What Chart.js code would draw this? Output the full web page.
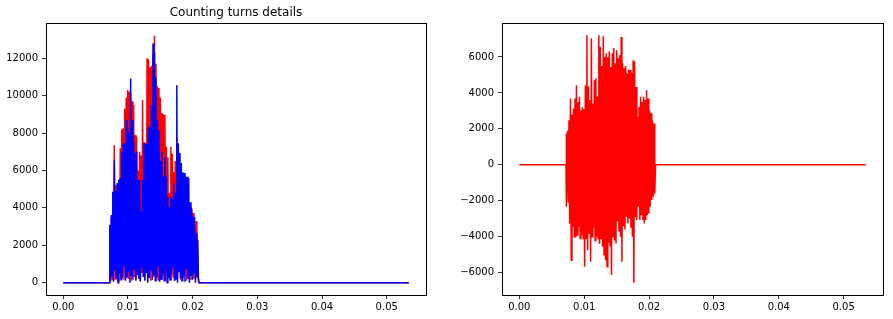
<!DOCTYPE html>
<html>
<head>
<meta charset="utf-8">
<title>Counting turns details</title>
<script src="https://cdn.jsdelivr.net/npm/chart.js@4.4.0/dist/chart.umd.min.js"></script>
<style>
  html, body { margin:0; padding:0; background:#fff; }
  #wrap { position:relative; width:893px; height:319px; }
  #leftCanvas { position:absolute; left:0; top:0; }
  #rightCanvas { position:absolute; left:446px; top:0; }
</style>
</head>
<body>
<div id="wrap">
  <canvas id="leftCanvas" width="446" height="319"></canvas>
  <canvas id="rightCanvas" width="447" height="319"></canvas>
</div>
<script>
/* time window of the recording (s) */
const tEnd = 0.0534;
const burstStart = 0.0072;
const burstEnd = 0.0210;

/* left panel: magnitude, one peak + one trough per sample pair */
const redPeaks = [3100, 3500, 4800, 7350, 5200, 5300, 5500, 7180, 8200, 8250,
  9300, 9900, 10300, 10200, 10100, 9700, 9500, 7900, 7800, 6000,
  7000, 6800, 9760, 7500, 7450, 12000, 11900, 11500, 11600, 12200,
  13200, 11700, 10500, 10400, 9900, 9070, 9000, 8970, 7270, 6700,
  4800, 7270, 6900, 5900, 6500, 7800, 7180, 6900, 6290, 5500,
  5400, 4800, 4590, 4300, 4060, 3990, 3720, 2820, 3300, 2300];
const redTroughs = [300, 150, 600, 200, 400, 100, 700, 250, 500, 150,
  800, 300, 200, 450, 100, 650, 300, 150, 900, 250,
  100, 500, 300, 150, 700, 200, 400, 100, 600, 300,
  800, 250, 150, 500, 200, 900, 350, 100, 600, 250,
  150, 700, 300, 100, 500, 200, 650, 150, 400, 250,
  800, 100, 300, 550, 150, 400, 200, 600, 250, 300];
const bluePeaks = [3080, 3620, 4860, 6550, 4900, 5320, 5500, 5600, 7000, 7450,
  7400, 8690, 8300, 8000, 10920, 8690, 7500, 6930, 7000, 5490,
  5500, 3800, 5490, 7450, 7400, 7450, 8330, 8300, 9500, 12790,
  12300, 11000, 8690, 8150, 6500, 7000, 5700, 6730, 5660, 4590,
  4060, 4590, 4500, 5300, 4800, 10560, 7450, 6930, 6400, 5900,
  5860, 5660, 5660, 5600, 4300, 3900, 3530, 3500, 2640, 2280];
const blueTroughs = [100, 400, 50, 700, 200, 0, 500, 150, 300, 850,
  100, 250, 600, 0, 350, 150, 700, 100, 400, 200,
  50, 800, 300, 100, 500, 0, 250, 650, 150, 400,
  100, 300, 900, 50, 200, 500, 100, 700, 0, 300,
  150, 450, 850, 100, 200, 0, 600, 250, 100, 400,
  50, 750, 200, 0, 350, 150, 500, 0, 300, 100];

/* right panel: raw signal */
const sigPeaks = [1740, 1900, 2480, 3690, 2800, 3130, 3690, 4430, 3500, 3780,
  3040, 3200, 3100, 4430, 7200, 4350, 3600, 7020, 3410, 4700,
  4800, 3800, 7200, 6560, 5500, 7150, 6000, 6200, 5970, 6300,
  5440, 6200, 6500, 5650, 6370, 5930, 6100, 7110, 5650, 5370,
  5500, 5090, 5300, 5280, 5100, 5800, 5720, 4330, 2670, 3220,
  3780, 3500, 3780, 3600, 4150, 3690, 3040, 2870, 2480, 2300];
const sigTroughs = [-2330, -2100, -3260, -5300, -3440, -4000, -4040, -3900, -3440, -4090,
  -3900, -4100, -5670, -4090, -4740, -3800, -5390, -4000, -3500, -4200,
  -4000, -4100, -4400, -4100, -4560, -5000, -5300, -5670, -4300, -4500,
  -6130, -4000, -4200, -4370, -3150, -3700, -4000, -5390, -3400, -3600,
  -2890, -3260, -3000, -3500, -4000, -6550, -2900, -3070, -2330, -3070,
  -2800, -3070, -3260, -3070, -2800, -2700, -2330, -1960, -1780, -1590];

/* ticks */
const xTicks = [0, 0.01, 0.02, 0.03, 0.04, 0.05];
const leftYTicks = [0, 2000, 4000, 6000, 8000, 10000, 12000];
const rightYTicks = [-6000, -4000, -2000, 0, 2000, 4000, 6000];

const FONT = { family: 'DejaVu Sans', size: 10 };

/* silence -> burst (peak/trough pairs) -> silence */
function buildSeries(peaks, troughs) {
  const step = (burstEnd - burstStart) / peaks.length;
  const pts = [{x: 0, y: 0}, {x: burstStart, y: 0}];
  peaks.forEach((p, i) => {
    pts.push({x: burstStart + i*step, y: p});
    pts.push({x: burstStart + (i+0.5)*step, y: troughs[i]});
  });
  pts.push({x: burstEnd, y: 0}, {x: tEnd, y: 0});
  return pts;
}

/* matplotlib-ish box around the axes */
const framePlugin = {
  id: 'frame',
  afterDraw(chart) {
    const {ctx, chartArea: a} = chart;
    ctx.save();
    ctx.strokeStyle = '#000';
    ctx.lineWidth = 1;
    ctx.strokeRect(Math.round(a.left) + 0.5, Math.round(a.top) + 0.5,
      Math.round(a.right - a.left), Math.round(a.bottom - a.top));
    ctx.restore();
  }
};

const fmtNum = v => v < 0 ? '\u2212' + Math.abs(v) : String(v);

function tickGrid() {
  return { drawOnChartArea: false, drawTicks: true, tickLength: 4, color: '#000', lineWidth: 0.8 };
}

function makeScales(ymin, ymax, yTicks, yWidth) {
  return {
    x: {
      type: 'linear', min: -0.00267, max: 0.05607,
      afterBuildTicks: s => { s.ticks = xTicks.map(v => ({value: v})); },
      afterFit: s => { s.height = 24; },
      grid: tickGrid(),
      border: { display: false },
      ticks: { color: '#000', font: FONT, padding: 2, maxRotation: 0, autoSkip: false,
        callback: v => v.toFixed(2) }
    },
    y: {
      type: 'linear', min: ymin, max: ymax,
      afterBuildTicks: s => { s.ticks = yTicks.map(v => ({value: v})); },
      afterFit: s => { s.width = yWidth; },
      grid: tickGrid(),
      border: { display: false },
      ticks: { color: '#000', font: FONT, padding: 4, autoSkip: false, callback: fmtNum }
    }
  };
}

const lineStyle = color => ({
  borderColor: color, backgroundColor: color, borderWidth: 1.5,
  pointRadius: 0, tension: 0, fill: false
});

/* left: Counting turns details */
new Chart(document.getElementById('leftCanvas'), {
  type: 'line',
  data: {
    datasets: [
      Object.assign({ data: buildSeries(bluePeaks, blueTroughs), order: 1 }, lineStyle('#0000ff')),
      Object.assign({ data: buildSeries(redPeaks, redTroughs), order: 2 }, lineStyle('#ff0000'))
    ]
  },
  options: {
    responsive: false,
    animation: false,
    layout: { padding: { left: 0, right: 20, top: 0, bottom: 0 } },
    scales: makeScales(-660, 13860, leftYTicks, 46),
    plugins: {
      legend: { display: false },
      tooltip: { enabled: false },
      title: {
        display: true, text: 'Counting turns details', color: '#000', fullSize: false,
        font: { family: 'DejaVu Sans', size: 12, weight: 'normal' },
        padding: { top: 6, bottom: 3 }
      }
    }
  },
  plugins: [framePlugin]
});

/* right: raw waveform */
new Chart(document.getElementById('rightCanvas'), {
  type: 'line',
  data: {
    datasets: [
      Object.assign({ data: buildSeries(sigPeaks, sigTroughs) }, lineStyle('#ff0000'))
    ]
  },
  options: {
    responsive: false,
    animation: false,
    layout: { padding: { left: 0, right: 10, top: 23, bottom: 0 } },
    scales: makeScales(-7237, 7887, rightYTicks, 56),
    plugins: { legend: { display: false }, tooltip: { enabled: false } }
  },
  plugins: [framePlugin]
});
</script>
</body>
</html>
